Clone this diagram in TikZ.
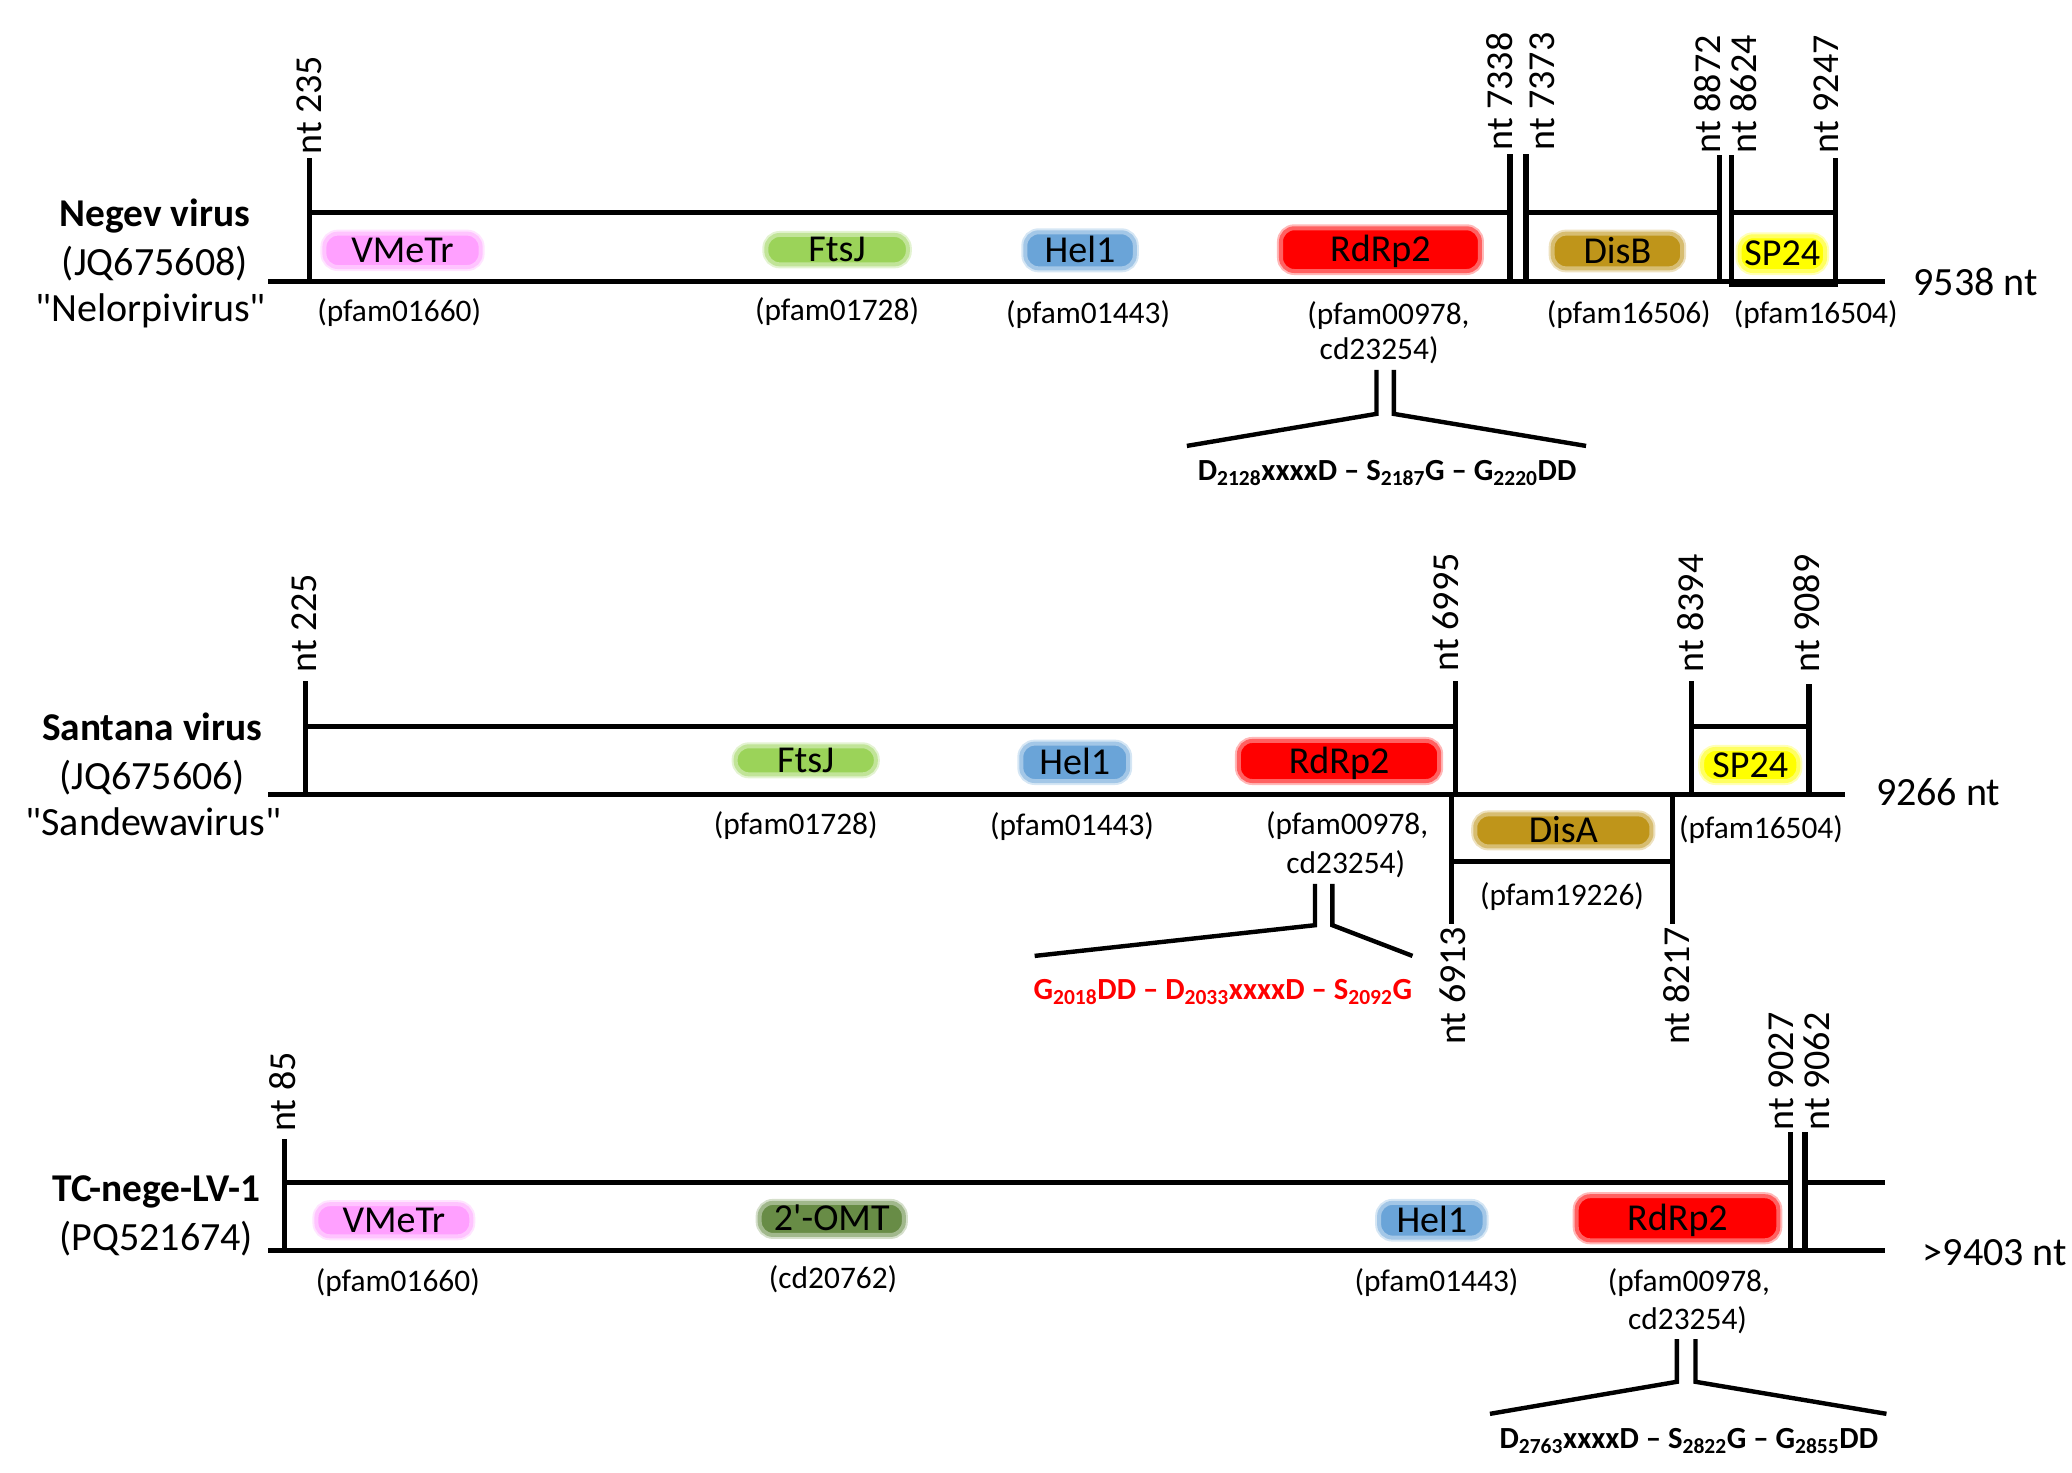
\documentclass[tikz,border=0pt]{standalone}
\usepackage{fontspec}
\setmainfont{Carlito}[Ligatures=TeXOff]
\definecolor{pinkc}{HTML}{FFA0FF}
\definecolor{greenc}{HTML}{9BD359}
\definecolor{bluec}{HTML}{6AA4D8}
\definecolor{redc}{HTML}{FF0000}
\definecolor{goldc}{HTML}{BF951A}
\definecolor{yellowc}{HTML}{FFFF00}
\definecolor{olivec}{HTML}{688C46}
\begin{document}
\begin{tikzpicture}[x=1pt,y=-1pt,
  gl/.style={line width=3.8pt, line cap=rect},
  ml/.style={line width=3.3pt, line join=miter},
  big/.style={font=\fontsize{30}{34}\selectfont, inner sep=0, anchor=base},
  bigb/.style={font=\bfseries\fontsize{29.5}{34}\selectfont, inner sep=0, anchor=base},
  sml/.style={font=\fontsize{23.5}{27}\selectfont, inner sep=0, anchor=base},
  ntl/.style={font=\fontsize{28.5}{32}\selectfont, inner sep=0, rotate=90, anchor=west},
  ntd/.style={font=\fontsize{28.5}{32}\selectfont, inner sep=0, rotate=90, anchor=east},
  mot/.style={font=\bfseries\fontsize{23}{27}\selectfont, inner sep=0, anchor=base},
  pill/.style={fill=#1, rounded corners=10pt, inner sep=0,
    preaction={draw=#1!28, line width=6pt},
    draw=#1!62, line width=3pt,
    font=\fontsize{28.5}{32}\selectfont, text height=18pt, text depth=0pt},
]
\useasboundingbox (0,0) rectangle (1552,1103);

% ================= Row 1: Negev virus =================
\node[bigb] (n1a) at (116,170) {Negev virus};
\node[big]  (n1b) at (116,206) {(JQ675608)};
\node[big]  (n1c) at (113,241) {"Nelorpivirus"};

\node[pill=pinkc,  minimum width=117, minimum height=25] (r1p1) at (301.5,187.5) {VMeTr};
\node[pill=greenc, minimum width=106, minimum height=22] (r1p2) at (627,187) {FtsJ};
\node[pill=bluec,  minimum width=82,  minimum height=27] (r1p3) at (809,187.5) {Hel1};
\node[pill=redc,   minimum width=149, minimum height=32] (r1p4) at (1034,187) {RdRp2};
\node[pill=goldc,  minimum width=97,  minimum height=26] (r1p5) at (1211.5,188) {DisB};
\node[pill=yellowc,minimum width=64,  minimum height=26] (r1p6) at (1335,190) {SP24};

\draw[gl] (232,120) -- (232,211);
\draw[gl] (232,159) -- (1131,159);
\draw[gl] (1131,117) -- (1131,211);
\draw[gl] (1143,117) -- (1143,211);
\draw[gl] (1143,159) -- (1288,159);
\draw[gl] (1288,118) -- (1288,211);
\draw[gl] (1297,118) -- (1297,211);
\draw[gl] (1297,159) -- (1375,159);
\draw[gl] (1375,120) -- (1375,211);
\draw[gl] (203,211) -- (1410,211);
\draw[gl] (1297,213) -- (1375,213);

\node[ntl] (t1a) at (232,116) {nt 235};
\node[ntl] (t1b) at (1123,113) {nt 7338};
\node[ntl] (t1c) at (1155,113) {nt 7373};
\node[ntl] (t1d) at (1279,115) {nt 8872};
\node[ntl] (t1e) at (1306,115) {nt 8624};
\node[ntl] (t1f) at (1368,115) {nt 9247};
\node[big, anchor=base west] (len1) at (1433,221) {9538 nt};

\node[sml] (s1a) at (299,241) {(pfam01660)};
\node[sml] (s1b) at (627,240) {(pfam01728)};
\node[sml] (s1c) at (815,242) {(pfam01443)};
\node[sml] (s1d) at (1040,243) {(pfam00978,};
\node[sml] (s1e) at (1033,269) {cd23254)};
\node[sml] (s1f) at (1220,242) {(pfam16506)};
\node[sml] (s1g) at (1360,242) {(pfam16504)};

\draw[ml] (1031,277) -- (1031,310) -- (889,334);
\draw[ml] (1044,277) -- (1044,310) -- (1188,334);
\node[mot] (m1) at (1039,360) {D\textsubscript{2128}xxxxD – S\textsubscript{2187}G – G\textsubscript{2220}DD};

% ================= Row 2: Santana virus =================
\node[bigb] (n2a) at (114,555) {Santana virus};
\node[big]  (n2b) at (114,591) {(JQ675606)};
\node[big]  (n2c) at (115,626) {"Sandewavirus"};

\node[pill=greenc, minimum width=105, minimum height=21] (r2p1) at (603.5,569.5) {FtsJ};
\node[pill=bluec,  minimum width=80,  minimum height=28] (r2p2) at (805,571) {Hel1};
\node[pill=redc,   minimum width=150, minimum height=30] (r2p3) at (1003,570) {RdRp2};
\node[pill=yellowc,minimum width=72,  minimum height=24] (r2p4) at (1311,573) {SP24};
\node[pill=goldc,  minimum width=132, minimum height=24] (r2p5) at (1171,622) {DisA};

\draw[gl] (229,512) -- (229,595);
\draw[gl] (229,544) -- (1090,544);
\draw[gl] (1090,512) -- (1090,595);
\draw[gl] (1267,512) -- (1267,595);
\draw[gl] (1267,544) -- (1355,544);
\draw[gl] (1355,514) -- (1355,595);
\draw[gl] (203,595) -- (1380,595);
\draw[gl] (1087,595) -- (1087,690);
\draw[gl] (1253,595) -- (1253,690);
\draw[gl] (1087,645) -- (1253,645);

\node[ntl] (t2a) at (228,504) {nt 225};
\node[ntl] (t2b) at (1083,503) {nt 6995};
\node[ntl] (t2c) at (1266,504) {nt 8394};
\node[ntl] (t2d) at (1353,504) {nt 9089};
\node[ntd] (t2e) at (1088,694) {nt 6913};
\node[ntd] (t2f) at (1256,694) {nt 8217};
\node[big, anchor=base west] (len2) at (1405,603) {9266 nt};

\node[sml] (s2a) at (596,625) {(pfam01728)};
\node[sml] (s2b) at (803,626) {(pfam01443)};
\node[sml] (s2c) at (1009,625) {(pfam00978,};
\node[sml] (s2d) at (1008,654) {cd23254)};
\node[sml] (s2e) at (1319,628) {(pfam16504)};
\node[sml] (s2f) at (1170,678) {(pfam19226)};

\draw[ml] (985,662) -- (985,693) -- (775,716);
\draw[ml] (998,662) -- (998,693) -- (1058,716);
\node[mot, text=redc] (m2) at (916,749) {G\textsubscript{2018}DD – D\textsubscript{2033}xxxxD – S\textsubscript{2092}G};

% ================= Row 3: TC-nege-LV-1 =================
\node[bigb] (n3a) at (117,900) {TC-nege-LV-1};
\node[big]  (n3b) at (117,937) {(PQ521674)};

\node[pill=pinkc,  minimum width=116, minimum height=24] (r3p1) at (295,914) {VMeTr};
\node[pill=olivec, minimum width=108, minimum height=24] (r3p2) at (623,913) {2\symbol{"0027}-OMT};
\node[pill=bluec,  minimum width=79,  minimum height=26] (r3p3) at (1072.5,914) {Hel1};
\node[pill=redc,   minimum width=151, minimum height=33] (r3p4) at (1256.5,912.5) {RdRp2};

\draw[gl] (213,855) -- (213,937);
\draw[gl] (213,886) -- (1341,886);
\draw[gl] (1341,850) -- (1341,937);
\draw[gl] (1352,850) -- (1352,937);
\draw[gl] (1352,886) -- (1410,886);
\draw[gl] (203,937) -- (1410,937);

\node[ntl] (t3a) at (212,848) {nt 85};
\node[ntl] (t3b) at (1334,847) {nt 9027};
\node[ntl] (t3c) at (1361,847) {nt 9062};
\node[big, anchor=base west] (len3) at (1440,948) {>9403 nt};

\node[sml] (s3a) at (298,967) {(pfam01660)};
\node[sml] (s3b) at (624,965) {(cd20762)};
\node[sml] (s3c) at (1076,967) {(pfam01443)};
\node[sml] (s3d) at (1265,967) {(pfam00978,};
\node[sml] (s3e) at (1264,996) {cd23254)};

\draw[ml] (1256,1003) -- (1256,1035) -- (1116,1059);
\draw[ml] (1270,1003) -- (1270,1035) -- (1413,1059);
\node[mot] (m3) at (1265,1085) {D\textsubscript{2763}xxxxD – S\textsubscript{2822}G – G\textsubscript{2855}DD};
\end{tikzpicture}
\end{document}
